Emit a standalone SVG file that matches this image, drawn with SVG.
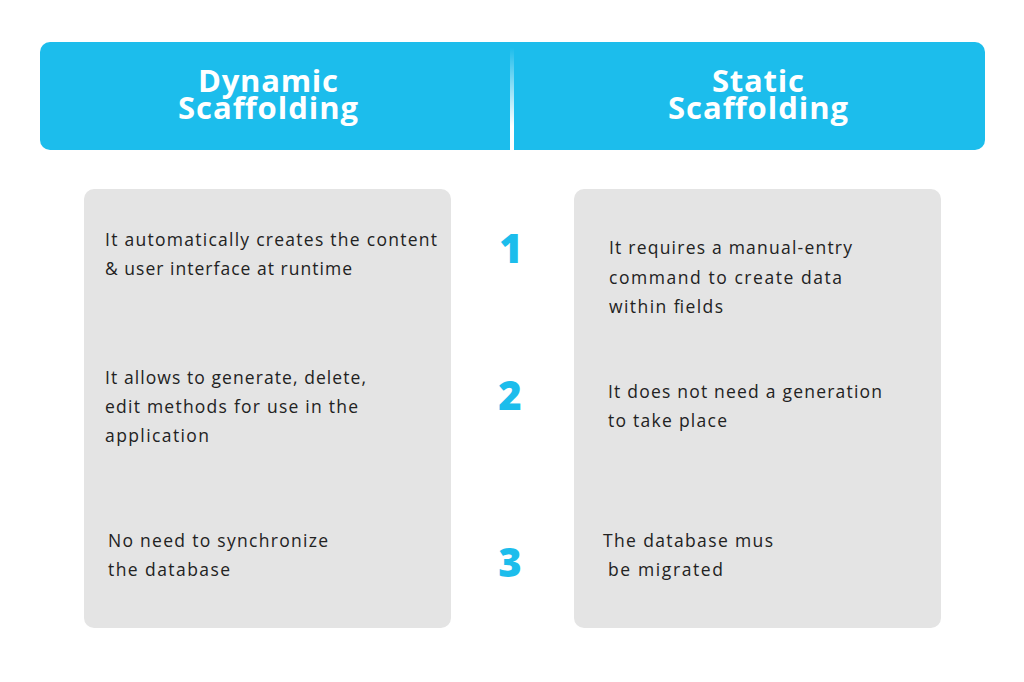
<svg xmlns="http://www.w3.org/2000/svg" width="1024" height="682" viewBox="0 0 1024 682">
<defs>
<linearGradient id="divfade" x1="0" y1="42" x2="0" y2="150" gradientUnits="userSpaceOnUse">
<stop offset="0.05" stop-color="#ffffff" stop-opacity="0"/>
<stop offset="0.78" stop-color="#ffffff" stop-opacity="1"/>
<stop offset="1" stop-color="#ffffff" stop-opacity="1"/>
</linearGradient>
</defs>
<style>
.hdr{fill:#1cbdec}
.box{fill:#e4e4e4}
.htxt{font-family:"Open Sans","Liberation Sans",sans-serif;font-weight:700;font-size:31px;fill:#ffffff;text-anchor:middle}
.num{font-family:"Open Sans","Liberation Sans",sans-serif;font-weight:800;font-size:40px;fill:#1cbdec;text-anchor:middle}
.txt{font-family:"Open Sans","Liberation Sans",sans-serif;font-size:17.5px;fill:#222222}
</style>
<rect width="1024" height="682" fill="#ffffff"/>
<g id="header">
<rect class="hdr" x="40" y="42" width="945" height="108" rx="10"/>
<rect x="510" y="42" width="4" height="108" fill="url(#divfade)"/>
</g>
<g id="dynamic-title">
<text class="htxt" x="268" y="92" textLength="140" lengthAdjust="spacing">Dynamic</text>
<text class="htxt" x="268" y="119" textLength="180" lengthAdjust="spacing">Scaffolding</text>
</g>
<g id="static-title">
<text class="htxt" x="758" y="92" textLength="92" lengthAdjust="spacing">Static</text>
<text class="htxt" x="758" y="119" textLength="180" lengthAdjust="spacing">Scaffolding</text>
</g>
<g id="dynamic-box">
<rect class="box" x="84" y="189" width="367" height="439" rx="10"/>
<text class="txt" x="105" y="246" textLength="332" lengthAdjust="spacing">It automatically creates the content</text>
<text class="txt" x="105" y="275" textLength="247" lengthAdjust="spacing">&amp; user interface at runtime</text>
<text class="txt" x="105" y="384" textLength="261" lengthAdjust="spacing">It allows to generate, delete,</text>
<text class="txt" x="105" y="413" textLength="253" lengthAdjust="spacing">edit methods for use in the</text>
<text class="txt" x="105" y="442" textLength="104" lengthAdjust="spacing">application</text>
<text class="txt" x="108" y="547" textLength="220" lengthAdjust="spacing">No need to synchronize</text>
<text class="txt" x="108" y="576" textLength="122" lengthAdjust="spacing">the database</text>
</g>
<g id="static-box">
<rect class="box" x="574" y="189" width="367" height="439" rx="10"/>
<text class="txt" x="609" y="254" textLength="243" lengthAdjust="spacing">It requires a manual-entry</text>
<text class="txt" x="609" y="284" textLength="233" lengthAdjust="spacing">command to create data</text>
<text class="txt" x="609" y="313" textLength="114" lengthAdjust="spacing">within fields</text>
<text class="txt" x="608" y="398" textLength="274" lengthAdjust="spacing">It does not need a generation</text>
<text class="txt" x="608" y="427" textLength="119" lengthAdjust="spacing">to take place</text>
<text class="txt" x="603" y="547" textLength="170" lengthAdjust="spacing">The database mus</text>
<text class="txt" x="608" y="576" textLength="115" lengthAdjust="spacing">be migrated</text>
</g>
<g id="numbers">
<text class="num" x="511" y="263">1</text>
<text class="num" x="510" y="410">2</text>
<text class="num" x="510" y="577">3</text>
</g>
<g id="connectors"></g>
</svg>
